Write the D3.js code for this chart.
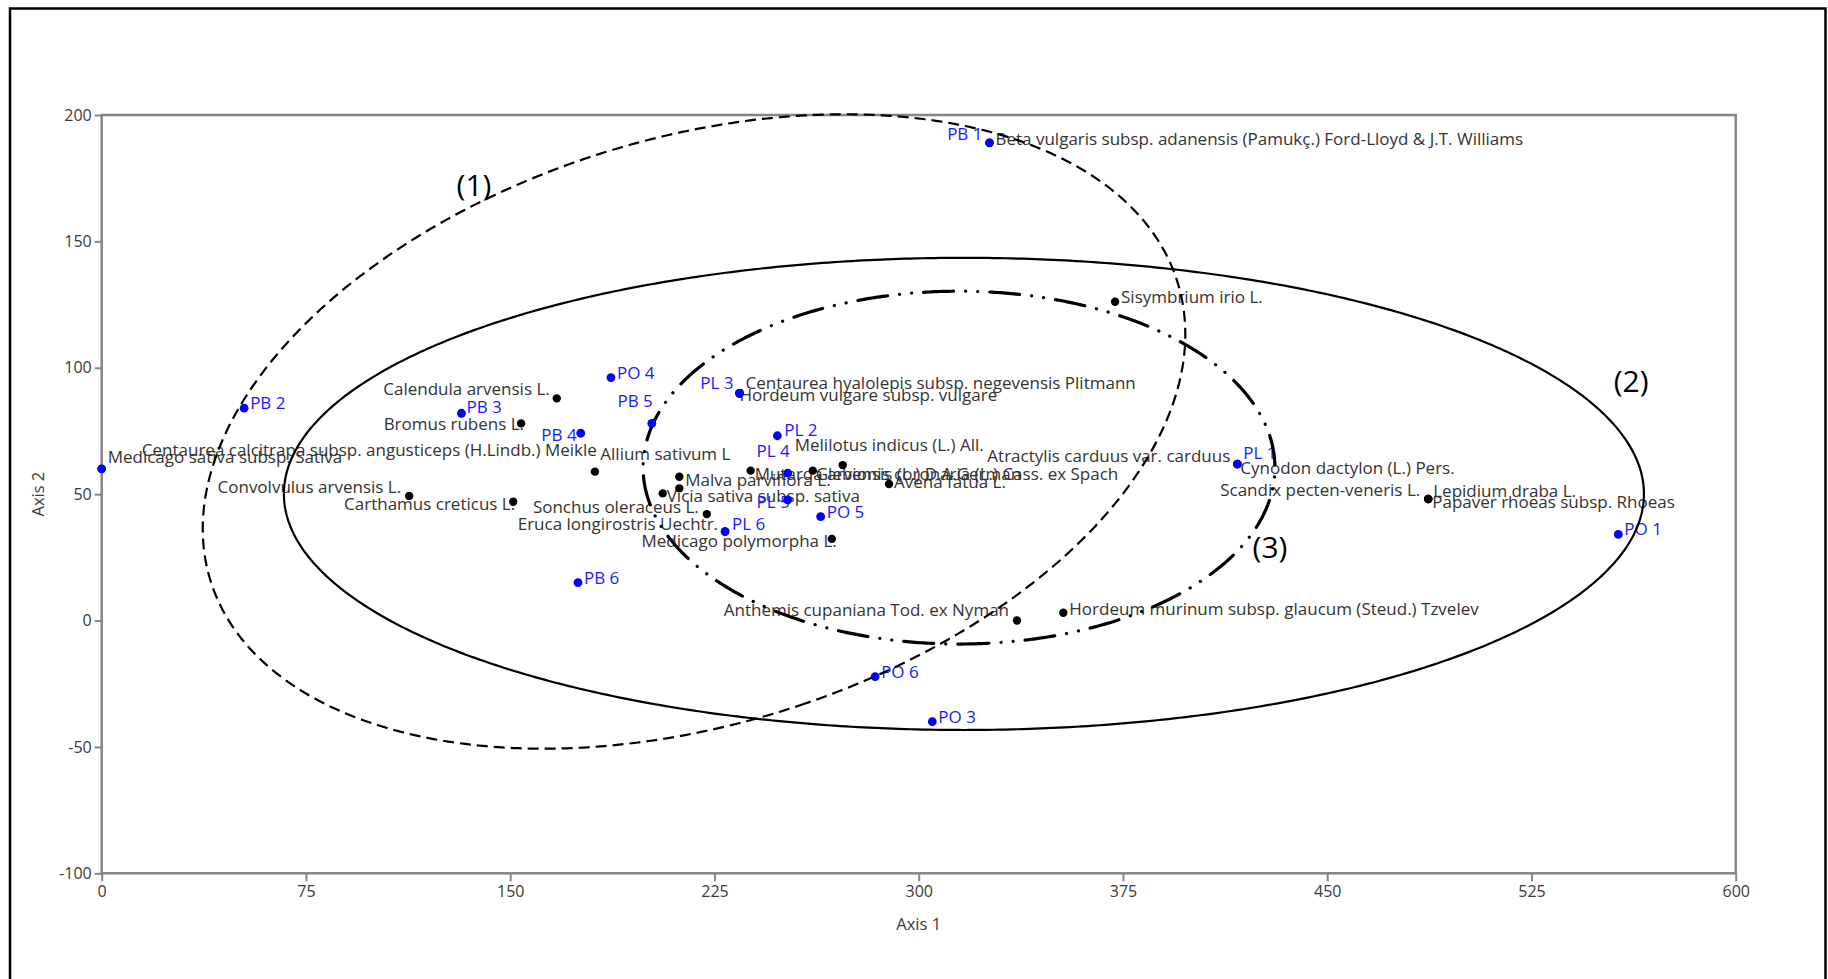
<!DOCTYPE html>
<html>
<head>
<meta charset="utf-8">
<script src="https://cdn.jsdelivr.net/npm/d3@7"></script>
<style>
  html, body { margin: 0; padding: 0; background: #fff; }
  svg { display: block; }
</style>
</head>
<body>
<svg id="chart" width="1828" height="979"></svg>
<script>
// ---------------- DATA ----------------
const xTicks = [0, 75, 150, 225, 300, 375, 450, 525, 600];
const yTicks = [-100, -50, 0, 50, 100, 150, 200];
const xTitle = "Axis 1";
const yTitle = "Axis 2";

const siteNames = ["PB 1","PB 2","PB 3","PB 4","PB 5","PB 6","PO 1","PO 2","PO 3","PO 4","PO 5","PO 6","PL 1","PL 2","PL 3","PL 4","PL 5","PL 6"];
const siteAxis1 = [326.0, 52.3, 132.1, 175.9, 202.0, 174.9, 556.9, 0.0, 305.0, 187.0, 264.0, 284.0, 417.0, 248.1, 234.2, 251.9, 251.9, 228.9];
const siteAxis2 = [189.0, 84.0, 82.0, 74.1, 78.0, 15.0, 34.1, 60.0, -40.0, 96.1, 41.1, -22.2, 61.9, 73.1, 89.9, 58.3, 47.7, 35.2];

const speciesNames = [
  "Beta vulgaris subsp. adanensis (Pamukç.) Ford-Lloyd & J.T. Williams",
  "Sisymbrium irio L.",
  "Calendula arvensis L.",
  "Bromus rubens L.",
  "Centaurea calcitrapa subsp. angusticeps (H.Lindb.) Meikle",
  "Allium sativum L",
  "Medicago sativa subsp. Sativa",
  "Convolvulus arvensis L.",
  "Carthamus creticus L.",
  "Sonchus oleraceus L.",
  "Eruca longirostris Uechtr.",
  "Malva parviflora L.",
  "Vicia sativa subsp. sativa",
  "Medicago polymorpha L.",
  "Centaurea hyalolepis subsp. negevensis Plitmann",
  "Hordeum vulgare subsp. vulgare",
  "Melilotus indicus (L.) All.",
  "Mutarda arvensis (L.) D.A.German",
  "Glebionis coronaria (L.) Cass. ex Spach",
  "Avena fatua L.",
  "Atractylis carduus var. carduus",
  "Cynodon dactylon (L.) Pers.",
  "Scandix pecten-veneris L.",
  "Lepidium draba L.",
  "Papaver rhoeas subsp. Rhoeas",
  "Hordeum murinum subsp. glaucum (Steud.) Tzvelev",
  "Anthemis cupaniana Tod. ex Nyman"
];
const speciesAxis1 = [326.0, 372.1, 167.1, 154.0, 181.1, 212.1, 0.0, 112.9, 151.1, 222.2, 228.9, 212.1, 206.0, 268.1, 234.2, 234.2, 272.1, 238.3, 261.1, 289.1, 417.0, 417.0, 487.1, 487.1, 487.1, 353.1, 336.1];
const speciesAxis2 = [189.0, 126.1, 87.9, 78.0, 58.9, 52.3, 60.0, 49.3, 47.0, 42.1, 35.2, 56.9, 50.3, 32.3, 89.9, 89.9, 61.5, 59.3, 59.3, 54.0, 61.9, 61.9, 48.1, 48.1, 48.1, 3.1, 0.0];

// Ellipses (data units): centre, semi-axes, rotation (degrees)
const ellipseNames = ["(1)", "(2)", "(3)"];
const ellipseCx = [217.5, 316.6, 314.8];
const ellipseCy = [74.8, 50.1, 60.5];
const ellipseRx = [187.2, 249.7, 116.0];
const ellipseRy = [115.1, 93.4, 69.8];
const ellipseAngle = [19.8, 0, 0];
const ellipseLabelX = [136.7, 561.6, 429.0];
const ellipseLabelY = [172.3, 94.4, 28.7];

// ---------------- LAYOUT (label placement, px) ----------------
const speciesLabelPlace = [
  ["start", 6, -4], ["start", 6, -5], ["end", -7, -9], ["end", 3, 1],
  ["end", 2, -22], ["start", -79, -34], ["start", 6, -12], ["end", -8, -9],
  ["end", 2, 2], ["end", -8, -7], ["end", -7, -8], ["start", 6, 3],
  ["start", 4, 3], ["end", 5, 2], ["start", 6, -10], ["start", 0, 2],
  ["start", -48, -20], ["start", 4, 3], ["start", 3, 3], ["start", 5, -2],
  ["end", -7, -8], ["start", 3, 4], ["end", -8, -9], ["start", 5, -8],
  ["start", 4, 3], ["start", 6, -4], ["end", -8, -10]
];
const siteLabelPlace = [
  ["end", -7, -9], ["start", 6, -5], ["start", 5, -6], ["end", -4, 2],
  ["end", 1, -22], ["start", 6, -5], ["start", 6, -5], null,
  ["start", 6, -5], ["start", 6, -5], ["start", 6, -5], ["start", 6, -5],
  ["start", 6, -11], ["start", 7, -6], ["end", -6, -10], ["end", 2, -22],
  ["end", 2, 2], ["start", 7, -8]
];

// ---------------- DRAW ----------------
const svg = d3.select("#chart");
const FONT = "'Open Sans', 'Noto Sans', sans-serif";
const plotL = 101.7, plotR = 1735.7, plotT = 115, plotB = 873.3;

const x = d3.scaleLinear().domain([0, 600]).range([plotL, plotR]);
const y = d3.scaleLinear().domain([-100, 200]).range([plotB, plotT]);

// outer frame
svg.append("rect")
  .attr("x", 10).attr("y", 8.5).attr("width", 1815.5).attr("height", 1000)
  .attr("fill", "none").attr("stroke", "#000").attr("stroke-width", 2.5);

// axes
const axisColor = "#858585";
const fmt = d => String(d);
const gx = svg.append("g").attr("transform", `translate(0,${plotB})`)
  .call(d3.axisBottom(x).tickValues(xTicks).tickSize(8).tickSizeOuter(0).tickFormat(fmt));
const gy = svg.append("g").attr("transform", `translate(${plotL},0)`)
  .call(d3.axisLeft(y).tickValues(yTicks).tickSize(7).tickSizeOuter(0).tickFormat(fmt));
[gx, gy].forEach(g => {
  g.select(".domain").remove();
  g.selectAll(".tick line").attr("stroke", axisColor).attr("stroke-width", 2);
  g.selectAll(".tick text").attr("fill", "#3a3a3a")
    .style("font-family", FONT).style("font-size", "16px");
});
gx.selectAll(".tick text").attr("y", 12);
gy.selectAll(".tick text").attr("x", -10);

// plot frame
svg.append("rect")
  .attr("x", plotL).attr("y", plotT).attr("width", plotR - plotL).attr("height", plotB - plotT)
  .attr("fill", "none").attr("stroke", axisColor).attr("stroke-width", 2.5);

// axis titles
svg.append("text").text(xTitle)
  .attr("x", (plotL + plotR) / 2).attr("y", 924).attr("dy", "0.35em")
  .attr("text-anchor", "middle").attr("fill", "#3a3a3a")
  .style("font-family", FONT).style("font-size", "16.5px");
svg.append("text").text(yTitle)
  .attr("transform", `translate(38.5,${(plotT + plotB) / 2}) rotate(-90)`)
  .attr("dy", "0.35em").attr("text-anchor", "middle").attr("fill", "#3a3a3a")
  .style("font-family", FONT).style("font-size", "16.5px");

// labels (drawn under dots and ellipses)
const labelG = svg.append("g").style("font-family", FONT).style("font-size", "17px");
speciesNames.forEach((n, i) => {
  const p = speciesLabelPlace[i];
  if (!p) return;
  labelG.append("text").text(n)
    .attr("x", x(speciesAxis1[i]) + p[1]).attr("y", y(speciesAxis2[i]) + p[2])
    .attr("dy", "0.35em").attr("text-anchor", p[0]).attr("fill", "#333");
});
siteNames.forEach((n, i) => {
  const p = siteLabelPlace[i];
  if (!p) return;
  labelG.append("text").text(n)
    .attr("x", x(siteAxis1[i]) + p[1]).attr("y", y(siteAxis2[i]) + p[2])
    .attr("dy", "0.35em").attr("text-anchor", p[0]).attr("fill", "#1a1aff");
});

// ellipses
const ellipseStyles = [
  { dash: "11,6", width: 2.2 },
  { dash: null, width: 2.2 },
  { dash: "30,12,0.1,12,0.1,12", width: 3.2 }
];
const line = d3.line().x(d => x(d[0])).y(d => y(d[1])).curve(d3.curveLinearClosed);
ellipseNames.forEach((nm, i) => {
  const phi = ellipseAngle[i] * Math.PI / 180;
  const pts = d3.range(0, 720).map(k => {
    const t = -Math.PI / 2 + k / 720 * 2 * Math.PI;
    const ex = ellipseRx[i] * Math.cos(t), ey = ellipseRy[i] * Math.sin(t);
    return [ellipseCx[i] + ex * Math.cos(phi) - ey * Math.sin(phi),
            ellipseCy[i] + ex * Math.sin(phi) + ey * Math.cos(phi)];
  });
  const st = ellipseStyles[i];
  const path = svg.append("path").attr("d", line(pts))
    .attr("fill", "none").attr("stroke", "#000").attr("stroke-width", st.width);
  if (st.dash) path.attr("stroke-dasharray", st.dash).attr("stroke-linecap", i === 2 ? "round" : "butt");
  svg.append("text").text(nm)
    .attr("x", x(ellipseLabelX[i])).attr("y", y(ellipseLabelY[i])).attr("dy", "0.35em")
    .attr("text-anchor", "middle").attr("fill", "#000")
    .style("font-family", FONT).style("font-size", "30px");
});

// dots
svg.append("g").selectAll("circle").data(speciesNames).join("circle")
  .attr("cx", (d, i) => x(speciesAxis1[i])).attr("cy", (d, i) => y(speciesAxis2[i]))
  .attr("r", 4.2).attr("fill", "#000");
svg.append("g").selectAll("circle").data(siteNames).join("circle")
  .attr("cx", (d, i) => x(siteAxis1[i])).attr("cy", (d, i) => y(siteAxis2[i]))
  .attr("r", 4.4).attr("fill", "#0000ff");
</script>
</body>
</html>
